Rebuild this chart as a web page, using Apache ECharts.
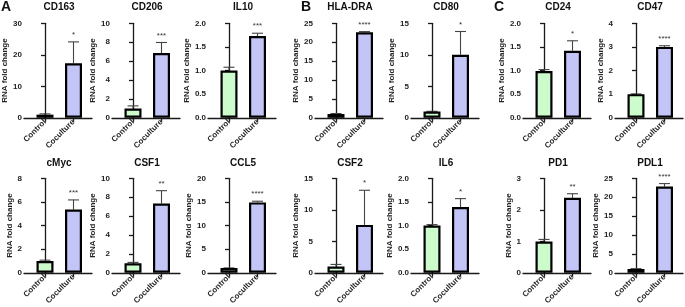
<!DOCTYPE html>
<html>
<head>
<meta charset="utf-8">
<script src="https://cdn.jsdelivr.net/npm/echarts@6/dist/echarts.min.js"></script>
<style>
html,body{margin:0;padding:0;background:#fff;}
#c{width:685px;height:307px;}
</style>
</head>
<body>
<div id="c"></div>
<script>
// ---- data ----
const genes = ['CD163','CD206','IL10','HLA-DRA','CD80','CD24','CD47','cMyc','CSF1','CCL5','CSF2','IL6','PD1','PDL1'];
const categories = ['Control','Coculture'];
const controlMean = [1.0, 0.98, 1.0, 1.0, 1.0, 0.99, 1.0, 1.0, 1.0, 1.0, 1.0, 1.0, 0.99, 1.0];
const controlErr  = [0.25, 0.28, 0.07, 0.12, 0.03, 0.03, 0.01, 0.07, 0.1, 0.03, 0.33, 0.02, 0.07, 0.1];
const cocultureMean = [17.3, 6.85, 1.73, 22.6, 10.0, 1.42, 3.0, 5.35, 7.33, 14.9, 7.6, 1.39, 2.38, 22.8];
const cocultureErr  = [6.8, 1.12, 0.06, 0.2, 3.7, 0.21, 0.05, 0.82, 1.36, 0.25, 5.5, 0.18, 0.13, 0.8];
const stars = ['*','***','***','****','*','*','****','***','**','****','*','*','**','****'];
const yMax = [30, 10, 2, 25, 15, 2, 4, 8, 10, 20, 15, 2, 3, 25];
const yStep = [10, 2, 0.5, 5, 5, 0.5, 1, 2, 2, 5, 5, 0.5, 1, 5];
const panelLetters = ['A','B','C'];

// ---- layout ----
const colCtrlX = [45, 133, 229, 336, 432, 544, 636];
const rowTop = [23.3, 178.3];
const rowTitleY = [2.5, 158];
const plotH = 94.5;
const pxPerCat = 28.5;
const leftPad = 21;
const plotW = 68;
const letterX = [1, 301, 494];
const colors = ['#ccfbcc', '#c3c5f6'];

const chart = echarts.init(document.getElementById('c'), null, {renderer: 'canvas'});

const grids = [], xAxes = [], yAxes = [], series = [], titles = [];
const FONT = 'Liberation Sans, Arial, sans-serif';

function labelWidth(maxV, step) {
  const dec = step < 1 ? 1 : 0;
  const s = maxV.toFixed(dec);
  let w = 0;
  for (const ch of s) w += (ch === '.') ? 2.2 : 4.45;
  return w;
}

genes.forEach((g, i) => {
  const row = i < 7 ? 0 : 1;
  const col = i % 7;
  const axisX = colCtrlX[col] - leftPad;
  grids.push({
    left: axisX, top: rowTop[row], width: plotW, height: plotH,
    containLabel: false, outerBoundsMode: 'none'
  });
  const xmin = -leftPad / pxPerCat;
  const xmax = xmin + plotW / pxPerCat;
  xAxes.push({
    type: 'value', gridIndex: i, min: xmin, max: xmax,
    splitLine: {show: false},
    axisLine: {show: true, onZero: false, lineStyle: {color: '#1a1a1a', width: 1.3}},
    axisTick: {show: true, customValues: [0, 1], length: 4, lineStyle: {color: '#1a1a1a', width: 1.3}},
    axisLabel: {
      show: true, customValues: [0, 1], rotate: 45, margin: 3,
      fontSize: 8, fontWeight: 'bold', color: '#222', fontFamily: FONT,
      formatter: v => categories[Math.round(v)]
    }
  });
  const dec = yStep[i] < 1 ? 1 : 0;
  yAxes.push({
    type: 'value', gridIndex: i, min: 0, max: yMax[i], interval: yStep[i],
    splitLine: {show: false},
    axisLine: {show: true, lineStyle: {color: '#1a1a1a', width: 1.3}},
    axisTick: {show: true, length: 4, lineStyle: {color: '#1a1a1a', width: 1.3}},
    axisLabel: {margin: 2, fontSize: 8, fontWeight: 'bold', color: '#222', fontFamily: FONT,
      formatter: v => v.toFixed(dec)},
    name: 'RNA fold change', nameLocation: 'middle',
    nameGap: labelWidth(yMax[i], yStep[i]) + 5.5,
    nameTextStyle: {fontSize: 8, fontWeight: 'bold', color: '#222', fontFamily: FONT}
  });
  series.push({
    type: 'bar', xAxisIndex: i, yAxisIndex: i, barWidth: 17,
    data: [
      {value: [0, controlMean[i]], itemStyle: {color: colors[0]}},
      {value: [1, cocultureMean[i]], itemStyle: {color: colors[1]}}
    ],
    itemStyle: {borderColor: '#000', borderWidth: 2.2},
    emphasis: {disabled: true}, silent: true, animation: false
  });
  series.push({
    type: 'custom', xAxisIndex: i, yAxisIndex: i, clip: false, z: 1,
    data: [
      [0, controlMean[i], controlErr[i], ''],
      [1, cocultureMean[i], cocultureErr[i], stars[i]]
    ],
    renderItem: (params, api) => {
      const x = api.value(0), m = api.value(1), e = api.value(2);
      const p0 = api.coord([x, m]);
      const p1 = api.coord([x, m + e]);
      const cap = 5.5;
      const st = {stroke: '#444', lineWidth: 1.1};
      const children = [
        {type: 'line', shape: {x1: p0[0], y1: p0[1], x2: p1[0], y2: p1[1]}, style: st},
        {type: 'line', shape: {x1: p1[0] - cap, y1: p1[1], x2: p1[0] + cap, y2: p1[1]}, style: st}
      ];
      const s = api.value(3);
      if (s) {
        children.push({type: 'text', x: p1[0], y: p1[1] - 3,
          style: {text: s, fill: '#333', fontSize: 8, fontFamily: FONT,
            align: 'center', verticalAlign: 'bottom'}});
      }
      return {type: 'group', children};
    },
    silent: true, animation: false
  });
  titles.push({
    text: g, left: colCtrlX[col] + 14, top: rowTitleY[row], textAlign: 'center', padding: 0,
    textStyle: {fontSize: 10, fontWeight: 'bold', color: '#111', fontFamily: FONT}
  });
});

panelLetters.forEach((L, k) => {
  titles.push({text: L, left: letterX[k], top: 0, padding: 0,
    textStyle: {fontSize: 14, fontWeight: 'bold', color: '#111', fontFamily: FONT}});
});

chart.setOption({
  animation: false,
  backgroundColor: '#fff',
  title: titles,
  grid: grids,
  xAxis: xAxes,
  yAxis: yAxes,
  series: series
});
</script>
</body>
</html>
